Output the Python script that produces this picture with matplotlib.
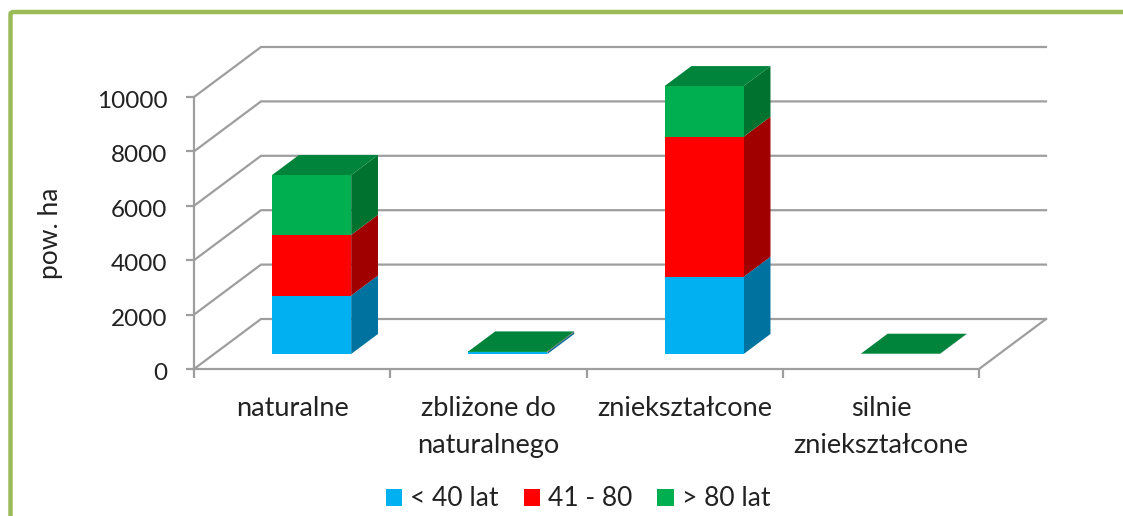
import matplotlib
matplotlib.use("Agg")
import matplotlib.pyplot as plt
from matplotlib.patches import Polygon, Patch, PathPatch
from matplotlib.path import Path
from matplotlib.transforms import ScaledTranslation

plt.rcParams['font.family'] = ['Lato', 'DejaVu Sans']

categories = ["naturalne", "zbliżone do\nnaturalnego", "zniekształcone", "silnie\nzniekształcone"]
series_names = ["< 40 lat", "41 - 80", "> 80 lat"]
under_40 = [2150, 70, 2840, 4]
from_41_to_80 = [2230, 15, 5150, 3]
over_80 = [2200, 10, 1860, 3]
y_ticks = [0, 2000, 4000, 6000, 8000, 10000]
front_colors = ["#00B0F0", "#FF0000", "#00B050"]
side_colors = ["#0072A0", "#A00000", "#007230"]
top_colors = ["#0085B5", "#BF0000", "#00843C"]

W, H = 1123, 516
fig = plt.figure(figsize=(W / 100, H / 100), dpi=100, facecolor="white")
ax = fig.add_axes([194 / W, (H - 369) / H, (979 - 194) / W, (369 - 97) / H])
ax.set_xlim(0, len(categories))
ax.set_ylim(0, y_ticks[-1])
ax.patch.set_visible(False)

GRID = "#9E9E9E"
TEXT = "#222222"
DX = 67 / 196.25   # depth offset in category units
DY = 50 / 0.0272   # depth offset in value units


def proj(x, y, d):
    return (x + d * DX, y + d * DY)


# walls and floor
for v in y_ticks:
    xs = [proj(0, v, 0)[0], proj(0, v, 1)[0], proj(len(categories), v, 1)[0]]
    ys = [v, proj(0, v, 1)[1], proj(0, v, 1)[1]]
    ax.plot(xs, ys, color=GRID, lw=1.6, clip_on=False, zorder=1, solid_joinstyle="miter")
p0, p1 = proj(len(categories), 0, 0), proj(len(categories), 0, 1)
ax.plot([p0[0], p1[0]], [p0[1], p1[1]], color=GRID, lw=1.6, clip_on=False, zorder=1)

# stacked 3D bars
BAR_W, D0, D1 = 0.403, 0.30, 0.70
stacks = [under_40, from_41_to_80, over_80]
z = 3
for i in range(len(categories)):
    left = i + 0.2955
    right = left + BAR_W
    base = 0.0
    for s, vals in enumerate(stacks):
        top = base + vals[i]
        face = [proj(left, base, D0), proj(right, base, D0), proj(right, top, D0), proj(left, top, D0)]
        side = [proj(right, base, D0), proj(right, base, D1), proj(right, top, D1), proj(right, top, D0)]
        ax.add_patch(Polygon(side, closed=True, fc=side_colors[s], ec="none", clip_on=False, zorder=z))
        ax.add_patch(Polygon(face, closed=True, fc=front_colors[s], ec="none", clip_on=False, zorder=z))
        base = top
    roof = [proj(left, base, D0), proj(right, base, D0), proj(right, base, D1), proj(left, base, D1)]
    ax.add_patch(Polygon(roof, closed=True, fc=top_colors[2], ec="none", clip_on=False, zorder=z))

# axes
for s in ("top", "right"):
    ax.spines[s].set_visible(False)
for s in ("left", "bottom"):
    ax.spines[s].set_color(GRID)
    ax.spines[s].set_linewidth(1.6)
    ax.spines[s].set_zorder(2)
ax.set_yticks(y_ticks)
ax.set_yticklabels([str(v) for v in y_ticks])
ax.set_xticks(range(len(categories) + 1))
ax.set_xticklabels([])
ax.set_xticks([i + 0.5 for i in range(len(categories))], minor=True)
ax.set_xticklabels(categories, minor=True, linespacing=1.6)
ax.tick_params(axis="y", length=6, width=1.6, color=GRID, labelsize=17.5, pad=13, labelcolor=TEXT)
ax.tick_params(axis="x", which="major", length=6.5, width=1.6, color=GRID)
ax.tick_params(axis="x", which="minor", length=0, labelsize=19.5, pad=19.5, labelcolor=TEXT)
shift = ScaledTranslation(0, -2.5 / 100, fig.dpi_scale_trans)
for lab in ax.get_yticklabels():
    lab.set_transform(lab.get_transform() + shift)
ax.set_ylabel("pow. ha", fontsize=19, color=TEXT)
ax.yaxis.set_label_coords((63 - 194) / (979 - 194), (369 - 233) / (369 - 97))

handles = [Patch(fc=c, ec="none") for c in front_colors]
fig.legend(handles, series_names, ncol=3, frameon=False, fontsize=19,
           loc="center", bbox_to_anchor=(578 / W, (H - 499) / H),
           handlelength=0.62, handleheight=0.62, handletextpad=0.3, columnspacing=0.95,
           labelcolor=TEXT, borderpad=0)

# frame
fx0, fy0 = 10.5 / W, (H - 12) / H
verts = [(fx0, 0), (fx0, fy0 - 0.004), (fx0, fy0), (fx0 + 0.003, fy0), (1, fy0)]
codes = [Path.MOVETO, Path.LINETO, Path.CURVE3, Path.CURVE3, Path.LINETO]
fig.add_artist(PathPatch(Path(verts, codes), fc="none", ec="#9BBB59", lw=3.2, transform=fig.transFigure))

fig.savefig("out.png", dpi=100)
